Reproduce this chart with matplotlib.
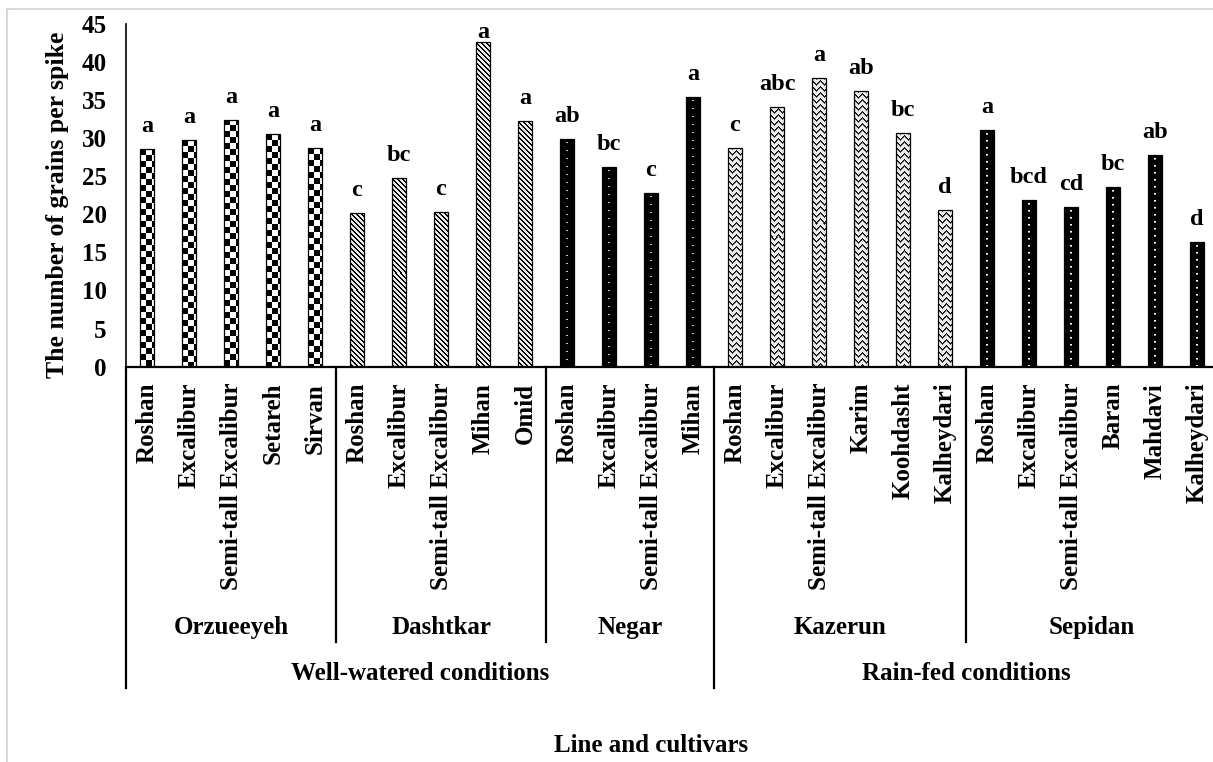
import numpy as np
import matplotlib
matplotlib.use("Agg")
import matplotlib.pyplot as plt
from matplotlib.lines import Line2D

# ---------------- data ----------------
conditions = ["Well-watered conditions", "Rain-fed conditions"]
locations = ["Orzueeyeh", "Dashtkar", "Negar", "Kazerun", "Sepidan"]
location_condition = [0, 0, 0, 1, 1]
cultivars = [
    ["Roshan", "Excalibur", "Semi-tall Excalibur", "Setareh", "Sirvan"],
    ["Roshan", "Excalibur", "Semi-tall Excalibur", "Mihan", "Omid"],
    ["Roshan", "Excalibur", "Semi-tall Excalibur", "Mihan"],
    ["Roshan", "Excalibur", "Semi-tall Excalibur", "Karim", "Koohdasht", "Kalheydari"],
    ["Roshan", "Excalibur", "Semi-tall Excalibur", "Baran", "Mahdavi", "Kalheydari"],
]
grains = [
    [28.5, 29.7, 32.4, 30.5, 28.7],
    [20.2, 24.7, 20.3, 42.6, 32.2],
    [29.8, 26.2, 22.8, 35.3],
    [28.7, 34.1, 37.8, 36.1, 30.6, 20.5],
    [31.0, 21.8, 20.9, 23.6, 27.7, 16.3],
]
letters = [
    ["a", "a", "a", "a", "a"],
    ["c", "bc", "c", "a", "a"],
    ["ab", "bc", "c", "a"],
    ["c", "abc", "a", "ab", "bc", "d"],
    ["a", "bcd", "cd", "bc", "ab", "d"],
]
patterns = ["checker", "stripes", "dots_fine", "weave", "dots"]
y_ticks = [0, 5, 10, 15, 20, 25, 30, 35, 40, 45]

# ---------------- style ----------------
plt.rcParams["font.family"] = ["Liberation Serif", "DejaVu Serif"]
plt.rcParams["font.weight"] = "bold"

W, H = 1213, 762
fig = plt.figure(figsize=(W / 100, H / 100), dpi=100)

def fx(px):
    return px / W

def fy(py):
    return 1 - py / H

ax_left, ax_right = 126, 1218
ax_top, ax_bottom = 23.5, 366.7
ax = fig.add_axes([fx(ax_left), fy(ax_bottom), (ax_right - ax_left) / W,
                   (ax_bottom - ax_top) / H])
px_per_unit = (ax_bottom - ax_top) / 45.0
bar_w = 1 / 3.0
bar_wpx = 14
FS = 18


def make_pattern(kind, hpx, wpx):
    i, j = np.mgrid[0:hpx, 0:wpx]
    if kind == "checker":
        return (((i // 6) + (j // 6)) % 2).astype(float)
    if kind == "stripes":
        return (((i - j) % 5) >= 2).astype(float) * 0.92
    if kind == "weave":
        z = (i + np.abs((j % 8) - 4)) % 6
        a = np.full((hpx, wpx), 0.92)
        a[z == 0] = 0.0
        a[z == 1] = 0.3
        return a
    if kind == "dots_fine":
        a = np.zeros((hpx, wpx))
        c = wpx // 2
        a[((i % 8) == 3) & ((j == c) | (j == c - 1))] = 0.8
        return a
    if kind == "dots":
        a = np.zeros((hpx, wpx))
        c = wpx // 2
        a[((i % 7) == 3) & ((j == c) | (j == c - 1))] = 1.0
        a[((i % 7) == 4) & ((j == c) | (j == c - 1))] = 0.6
        return a
    return np.ones((hpx, wpx))


label_gap_px = 17      # gap between bar top and letter baseline
letter_h_px = 14       # letters are kept inside the plot area
pos = 0
group_edges = [0]
for g, (names, vals, lets) in enumerate(zip(cultivars, grains, letters)):
    xs = np.arange(pos, pos + len(vals))
    bars = ax.bar(xs, vals, width=bar_w, color="white", edgecolor="none", zorder=2)
    for x, v, b in zip(xs, vals, bars):
        hpx = max(int(round(v * px_per_unit)), 1)
        img = ax.imshow(make_pattern(patterns[g], hpx, bar_wpx), cmap="gray",
                        vmin=0, vmax=1, interpolation="nearest", aspect="auto",
                        extent=(x - bar_w / 2, x + bar_w / 2, 0, v), zorder=2.5)
        img.set_clip_path(b)
    ax.bar(xs, vals, width=bar_w, fill=False, edgecolor="black", linewidth=0.9,
           zorder=3)
    for x, v, l in zip(xs, vals, lets):
        yb = min(v + label_gap_px / px_per_unit, 45 - letter_h_px / px_per_unit)
        ax.text(x, yb, l, ha="center", va="baseline", fontsize=17.5,
                fontweight="bold", clip_on=False)
    for x, n in zip(xs, names):
        ax.text(x, -0.047, n, rotation=90, ha="center", va="top", fontsize=FS,
                fontweight="bold", transform=ax.get_xaxis_transform(),
                clip_on=False)
    ax.text(xs.mean(), -0.761, locations[g], ha="center", va="center",
            fontsize=FS, fontweight="bold", transform=ax.get_xaxis_transform())
    pos += len(vals)
    group_edges.append(pos)

n_total = pos
ax.set_xlim(-0.5, n_total - 0.5)
ax.set_ylim(0, 45)
ax.set_yticks(y_ticks)
ax.set_xticks([])
ax.tick_params(axis="y", length=0, pad=14, labelsize=FS)
for lab in ax.get_yticklabels():
    lab.set_fontweight("bold")
for s in ["top", "right"]:
    ax.spines[s].set_visible(False)
ax.spines["left"].set_linewidth(1.2)
ax.spines["bottom"].set_linewidth(1.6)
ax.patch.set_alpha(0)

# separators under axis
xt = ax.get_xaxis_transform()
cond_edges = [0]
for c in range(len(conditions)):
    cond_edges.append(cond_edges[-1] + sum(len(cultivars[g]) for g in range(len(locations))
                                           if location_condition[g] == c))
y_short = (ax_bottom - 642) / (ax_bottom - ax_top)
y_long = (ax_bottom - 688) / (ax_bottom - ax_top)
for e in group_edges:
    yy = y_long if e in cond_edges else y_short
    ax.add_line(Line2D([e - 0.5, e - 0.5], [0, yy], transform=xt, color="black",
                       linewidth=1.6, clip_on=False))

for c, name in enumerate(conditions):
    mid = (cond_edges[c] + cond_edges[c + 1] - 1) / 2
    ax.text(mid, -0.893, name, ha="center", va="center", fontsize=FS,
            fontweight="bold", transform=xt)

fig.text(fx(651), fy(745), "Line and cultivars", ha="center", va="center",
         fontsize=FS, fontweight="bold")
fig.text(fx(58), fy(205), "The number of grains per spike", rotation=90,
         ha="center", va="center", fontsize=18.5, fontweight="bold")

# light grey frame
fig.add_artist(Line2D([fx(7), 1], [fy(9), fy(9)], color="#d9d9d9", linewidth=1.5))
fig.add_artist(Line2D([fx(7), fx(7)], [fy(9), 0], color="#d9d9d9", linewidth=1.5))

fig.savefig("out.png", dpi=100, facecolor="white")
